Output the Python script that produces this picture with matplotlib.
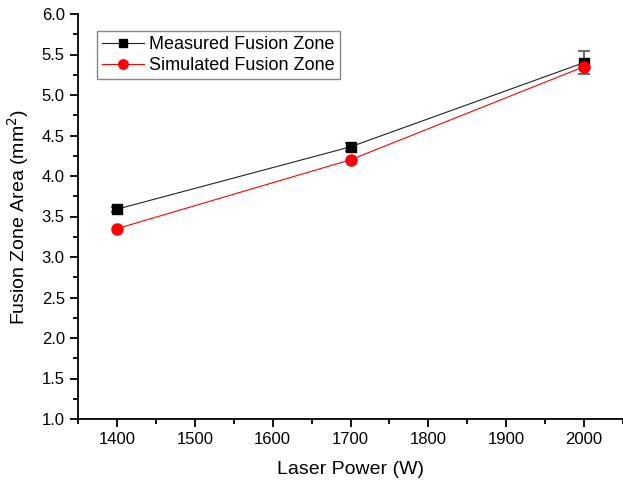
import matplotlib.pyplot as plt
from matplotlib.ticker import MultipleLocator

plt.rcParams['font.family'] = ['Liberation Sans', 'DejaVu Sans']

power = [1400, 1700, 2000]
measured = [3.59, 4.36, 5.40]
measured_err = [0.03, 0.05, 0.14]
simulated = [3.35, 4.20, 5.35]

fig = plt.figure(figsize=(6.23, 4.84), dpi=100)
ax = fig.add_axes([78 / 623, 1 - 419 / 484, 545 / 623, 405 / 484])

ax.errorbar(power, measured, yerr=measured_err, fmt='none', ecolor='#555555',
            elinewidth=1.2, capsize=4, capthick=1.2, zorder=2)
h1, = ax.plot(power, measured, color='#222222', lw=0.8, marker='s', ms=7,
              mfc='black', mec='black', label='Measured Fusion Zone', zorder=3)
h2, = ax.plot(power, simulated, color='red', lw=0.8, marker='o', ms=8,
              label='Simulated Fusion Zone', zorder=4)

ax.set_xlim(1350, 2050)
ax.set_ylim(1.0, 6.0)
ax.xaxis.set_major_locator(MultipleLocator(100))
ax.xaxis.set_minor_locator(MultipleLocator(50))
ax.yaxis.set_major_locator(MultipleLocator(0.5))
ax.yaxis.set_minor_locator(MultipleLocator(0.25))
ax.spines['top'].set_visible(False)
ax.spines['right'].set_visible(False)
for s in ('left', 'bottom'):
    ax.spines[s].set_linewidth(1.3)
ax.tick_params(which='major', direction='out', length=6, width=1.3, labelsize=12)
ax.tick_params(which='minor', direction='out', length=3.5, width=1.3)
ax.set_xlabel('Laser Power (W)', fontsize=14, labelpad=10)
ax.set_ylabel('Fusion Zone Area (mm$^2$)', fontsize=14, labelpad=8)

leg = ax.legend(handles=[h1, h2], loc='upper left', bbox_to_anchor=(0.035, 0.958),
                fontsize=13, frameon=True, fancybox=False, framealpha=1,
                edgecolor='#888888', borderpad=0.3, labelspacing=0.2,
                handlelength=2.3, handletextpad=0.25, borderaxespad=0,
                markerscale=0.85)
leg.get_frame().set_linewidth(1.0)

fig.savefig('out.png', dpi=100)
